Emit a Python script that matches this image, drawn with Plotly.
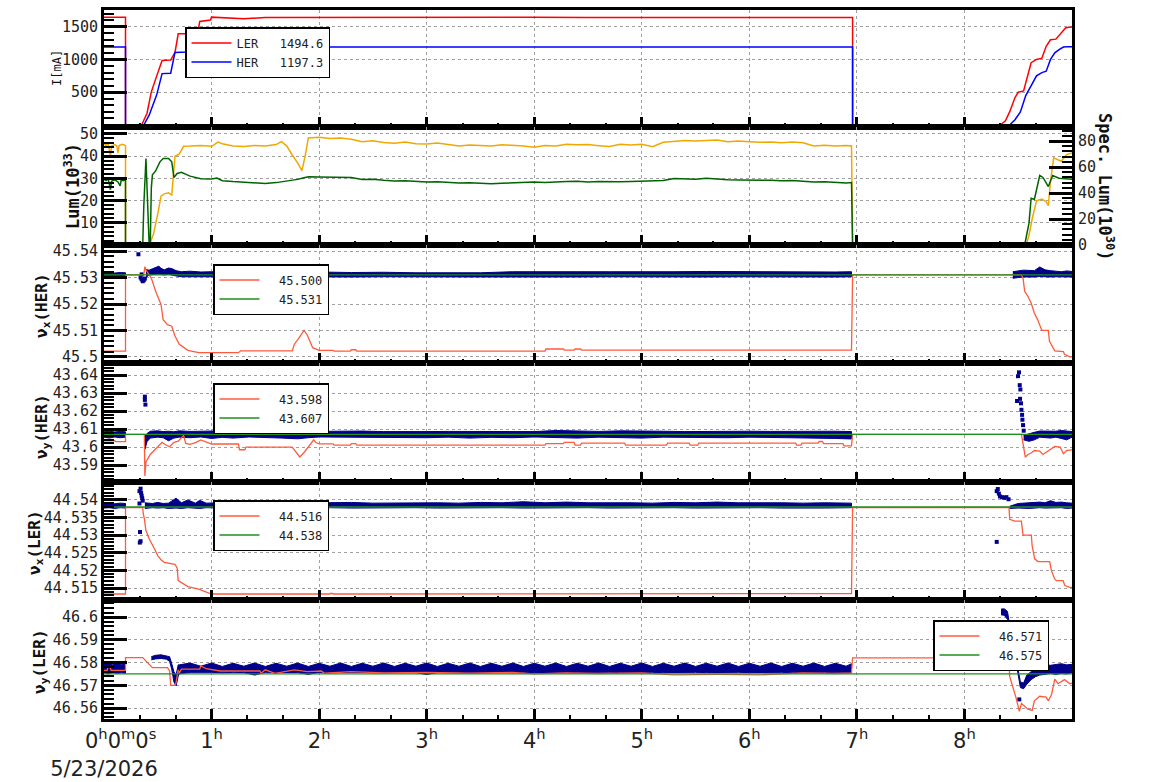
import plotly.graph_objects as go

# ---------------- data ----------------
HOUR_TICKS = [0, 1, 2, 3, 4, 5, 6, 7, 8]
HOUR_LABELS = ["\u00a0\u00a0\u00a0\u00a0\u00a00<sup>h</sup>0<sup>m</sup>0<sup>s</sup><br>5/23/2026",
               "1<sup>h</sup>", "2<sup>h</sup>", "3<sup>h</sup>", "4<sup>h</sup>", "5<sup>h</sup>",
               "6<sup>h</sup>", "7<sup>h</sup>", "8<sup>h</sup>"]

# beam currents [mA] (time in hours, value)
LER_CURRENT = [(0, 1642), (0.2, 1642), (0.2, 0), (0.35, 0), (0.40, 180), (0.44, 505), (0.48, 700), (0.51, 858),
               (0.54, 983), (0.62, 990), (0.66, 1107), (0.69, 1391), (0.77, 1391), (0.79, 1480), (0.88, 1480),
               (0.89, 1580), (0.99, 1600), (1.0, 1645), (1.3, 1620), (1.5, 1640), (2.0, 1642), (2.5, 1638),
               (3.0, 1641), (3.5, 1640), (4.0, 1642), (4.5, 1639), (5.0, 1641), (5.5, 1640), (6.0, 1642),
               (6.5, 1640), (6.96, 1640), (6.96, 0), (8.33, 0), (8.38, 60), (8.42, 200), (8.47, 420), (8.5, 500),
               (8.55, 520), (8.58, 700), (8.62, 950), (8.67, 1000), (8.72, 1020), (8.76, 1200), (8.8, 1300),
               (8.85, 1310), (8.9, 1400), (8.94, 1480), (8.97, 1490), (9.0, 1495)]
HER_CURRENT = [(0, 1190), (0.2, 1190), (0.2, 0), (0.37, 0), (0.42, 150), (0.46, 320), (0.49, 460), (0.54, 784),
               (0.62, 790), (0.66, 1107), (0.77, 1115), (0.79, 1185), (1.0, 1190), (1.5, 1190), (1.72, 1190),
               (1.79, 1050), (1.86, 858), (1.93, 1190), (2.5, 1190), (3.5, 1190), (4.5, 1190), (5.5, 1190),
               (6.5, 1190), (6.96, 1190), (6.96, 0), (8.42, 0), (8.47, 80), (8.52, 200), (8.57, 450), (8.62, 600),
               (8.67, 750), (8.72, 800), (8.76, 820), (8.8, 1000), (8.84, 1100), (8.88, 1150), (8.92, 1190),
               (8.95, 1192), (9.0, 1192)]
CURRENT_LEGEND = {"LER": "1494.6", "HER": "1197.3"}

# luminosity [1e33] (orange, left axis)
LUM = [(0, 45.5), (0.02, 44.8), (0.04, 45.6), (0.06, 39.5), (0.07, 44.5), (0.1, 45.2), (0.12, 44.6), (0.13, 41.5),
       (0.14, 44.8), (0.17, 45.3), (0.2, 44.8), (0.2, 1.0), (0.43, 1.0), (0.46, 5), (0.5, 14), (0.53, 22),
       (0.56, 23), (0.6, 23.5), (0.63, 22.5), (0.66, 39.9), (0.7, 41), (0.74, 44.4), (0.8, 44.5), (0.9, 44.8),
       (1.0, 44.4), (1.06, 46.3), (1.1, 45.6), (1.2, 44.6), (1.3, 44.3), (1.4, 44.8), (1.5, 44.5), (1.6, 45.2),
       (1.65, 46.5), (1.7, 44.5), (1.75, 40.5), (1.8, 37), (1.84, 33.5), (1.87, 40), (1.9, 48.2), (2.0, 48.5),
       (2.1, 47.9), (2.2, 48.2), (2.3, 47.6), (2.4, 46.5), (2.5, 46.9), (2.6, 46.1), (2.7, 45.8), (2.8, 46.3),
       (2.9, 45.6), (3.0, 45.4), (3.1, 45.9), (3.2, 45.1), (3.3, 44.6), (3.4, 45.0), (3.5, 44.8), (3.6, 44.5),
       (3.7, 45.1), (3.8, 45.0), (3.9, 44.6), (4.0, 44.0), (4.1, 44.8), (4.2, 44.6), (4.3, 45.3), (4.4, 45.1),
       (4.5, 45.2), (4.6, 44.7), (4.7, 44.3), (4.8, 45.3), (4.9, 45.0), (5.0, 45.3), (5.1, 44.2), (5.2, 46.2),
       (5.3, 46.6), (5.4, 47.0), (5.5, 46.8), (5.6, 47.2), (5.7, 47.3), (5.8, 46.5), (5.9, 46.8), (6.0, 46.5),
       (6.1, 46.2), (6.2, 46.4), (6.3, 46.0), (6.4, 46.3), (6.5, 46.0), (6.6, 44.6), (6.7, 44.9), (6.8, 44.5),
       (6.9, 44.8), (6.95, 44.6), (6.96, 1.0), (8.58, 1.0), (8.6, 4.4), (8.63, 11.8), (8.67, 19.9), (8.72, 20.7),
       (8.76, 19.5), (8.78, 17.7), (8.8, 28.8), (8.83, 39.2), (8.86, 38.4), (8.9, 37.7), (8.95, 40.7), (9.0, 41.4)]

# specific luminosity [1e30] (green, right axis)
SPEC_LUM = [(0, 50.5), (0.02, 49.5), (0.04, 50.8), (0.06, 42.5), (0.07, 49), (0.1, 50.2), (0.13, 48.5),
            (0.15, 45.5), (0.16, 50), (0.18, 49.5), (0.2, 50.3), (0.2, 0), (0.36, 0), (0.37, 30), (0.39, 66.5),
            (0.41, 20), (0.42, 0), (0.43, 0), (0.44, 44), (0.45, 54), (0.48, 57), (0.52, 64), (0.55, 66.5),
            (0.6, 66.5), (0.63, 64), (0.65, 52), (0.68, 55), (0.72, 56), (0.8, 53), (0.9, 51), (1.0, 50.8),
            (1.05, 51.5), (1.1, 49.5), (1.2, 48.8), (1.3, 48.2), (1.4, 47.8), (1.5, 47.3), (1.6, 48), (1.65, 48.5),
            (1.7, 49), (1.75, 49.9), (1.8, 50.5), (1.85, 51.6), (1.9, 52.5), (2.0, 52.3), (2.1, 52.1), (2.2, 52.4),
            (2.3, 52), (2.4, 50.4), (2.5, 50.6), (2.6, 49.8), (2.7, 49.2), (2.8, 49.5), (2.9, 48.8), (3.0, 48.4),
            (3.1, 48.6), (3.2, 48.0), (3.3, 47.7), (3.4, 47.9), (3.5, 47.3), (3.6, 47.1), (3.7, 47.5), (3.8, 47.9),
            (3.9, 48.2), (4.0, 48.4), (4.1, 48.1), (4.2, 48.6), (4.3, 48.9), (4.4, 49.0), (4.5, 48.4), (4.6, 48.8),
            (4.7, 48.5), (4.8, 48.7), (4.9, 48.9), (5.0, 49.0), (5.1, 49.4), (5.2, 49.6), (5.3, 51.1), (5.4, 50.8),
            (5.5, 50.5), (5.6, 51.4), (5.7, 50.6), (5.8, 50.2), (5.9, 50.0), (6.0, 49.9), (6.1, 50.3), (6.2, 49.8),
            (6.3, 49.5), (6.4, 49.6), (6.5, 49.0), (6.6, 48.4), (6.7, 48.6), (6.8, 47.9), (6.9, 47.7), (6.95, 48),
            (6.96, 0), (8.56, 0), (8.58, 9.2), (8.6, 16.8), (8.62, 36), (8.65, 35), (8.7, 53.5), (8.73, 52),
            (8.78, 45), (8.82, 53.5), (8.88, 51.4), (8.95, 50.8), (9.0, 50.5)]

# ---- tunes: measured band segments (t, low, high), isolated points, red trace, green reference ----
NUX_HER_BAND = [
    [(0.0, 45.5304, 45.5318), (0.05, 45.5303, 45.5320), (0.1, 45.5305, 45.5317), (0.15, 45.5303, 45.5319),
     (0.2, 45.5304, 45.5318)],
    [(0.39, 45.5300, 45.5330), (0.42, 45.5310, 45.5328), (0.45, 45.5311, 45.5333), (0.48, 45.5312, 45.5337),
     (0.51, 45.5313, 45.5343), (0.53, 45.5312, 45.5335), (0.56, 45.5310, 45.5329), (0.6, 45.5312, 45.5336),
     (0.63, 45.5311, 45.5334), (0.67, 45.5306, 45.5326), (0.72, 45.5303, 45.5322), (0.8, 45.5302, 45.5324),
     (0.9, 45.5303, 45.5321), (1.0, 45.5302, 45.5322), (1.2, 45.5302, 45.5320), (1.4, 45.5303, 45.5321),
     (1.6, 45.5302, 45.5322), (1.8, 45.5303, 45.5320), (2.0, 45.5302, 45.5321), (2.3, 45.5302, 45.5319),
     (2.6, 45.5303, 45.5320), (2.9, 45.5302, 45.5318), (3.2, 45.5303, 45.5319), (3.5, 45.5302, 45.5318),
     (3.8, 45.5302, 45.5322), (4.1, 45.5303, 45.5321), (4.4, 45.5302, 45.5322), (4.7, 45.5303, 45.5322),
     (5.0, 45.5302, 45.5321), (5.3, 45.5303, 45.5322), (5.6, 45.5302, 45.5323), (5.9, 45.5303, 45.5322),
     (6.2, 45.5302, 45.5321), (6.5, 45.5303, 45.5322), (6.8, 45.5302, 45.5321), (6.95, 45.5303, 45.5322)],
    [(8.45, 45.5297, 45.5322), (8.5, 45.5300, 45.5326), (8.55, 45.5302, 45.5328), (8.6, 45.5303, 45.5327),
     (8.65, 45.5302, 45.5326), (8.7, 45.5304, 45.5340), (8.75, 45.5303, 45.5329), (8.8, 45.5302, 45.5326),
     (8.85, 45.5303, 45.5325), (8.9, 45.5302, 45.5322), (8.95, 45.5303, 45.5325), (9.0, 45.5302, 45.5323)],
]
NUX_HER_PTS = [(0.32, 45.5388), (0.34, 45.5300), (0.35, 45.5293), (0.36, 45.5286), (0.37, 45.5290),
               (0.38, 45.5296), (0.35, 45.5312)]
NUX_HER_RED = [(0, 45.5022), (0.2, 45.5022), (0.2, 45.531), (0.37, 45.531), (0.38, 45.5341), (0.39, 45.5329),
               (0.44, 45.5298), (0.48, 45.5248), (0.53, 45.5198), (0.55, 45.5141), (0.59, 45.5122),
               (0.63, 45.5116), (0.66, 45.5079), (0.70, 45.5048), (0.78, 45.5025), (0.88, 45.5016),
               (1.25, 45.5016), (1.27, 45.5023), (1.75, 45.5023), (1.77, 45.5048), (1.81, 45.507), (1.86, 45.510),
               (1.89, 45.5083), (1.94, 45.5035), (2.0, 45.5025), (2.13, 45.5025), (2.14, 45.5022), (2.29, 45.5022),
               (2.30, 45.5027), (2.34, 45.5027), (2.35, 45.5022), (4.10, 45.5022), (4.11, 45.5030),
               (4.27, 45.5030), (4.28, 45.5026), (4.37, 45.5026), (4.38, 45.5030), (4.43, 45.5030),
               (4.44, 45.5026), (6.95, 45.5026), (6.96, 45.531), (8.53, 45.531), (8.545, 45.5298),
               (8.56, 45.5248), (8.59, 45.5229), (8.62, 45.5204), (8.65, 45.5166), (8.68, 45.5141), (8.72, 45.510),
               (8.78, 45.510), (8.79, 45.506), (8.84, 45.5023), (8.92, 45.502), (8.93, 45.501), (8.98, 45.500),
               (9.0, 45.500)]
NUX_HER_REF = 45.531
NUX_HER_LABELS = ("45.500", "45.531")

NUY_HER_BAND = [
    [(0.0, 43.6055, 43.6085), (0.05, 43.6050, 43.6088), (0.1, 43.6056, 43.6084), (0.15, 43.6052, 43.6087),
     (0.2, 43.6055, 43.6085)],
    [(0.38, 43.5985, 43.6060), (0.40, 43.6030, 43.6075), (0.43, 43.6050, 43.6088), (0.5, 43.6055, 43.6090),
     (0.55, 43.6052, 43.6086), (0.6, 43.6035, 43.6088), (0.65, 43.6050, 43.6085), (0.7, 43.6055, 43.6090),
     (0.8, 43.6052, 43.6087), (0.9, 43.6056, 43.6088), (1.0, 43.6048, 43.6086), (1.1, 43.6054, 43.6088),
     (1.2, 43.6050, 43.6091), (1.35, 43.6056, 43.6086), (1.5, 43.6054, 43.6088), (1.65, 43.6050, 43.6086),
     (1.8, 43.6046, 43.6088), (1.9, 43.6052, 43.6087), (2.0, 43.6056, 43.6088), (2.2, 43.6054, 43.6086),
     (2.4, 43.6052, 43.6089), (2.6, 43.6055, 43.6086), (2.8, 43.6053, 43.6088), (3.0, 43.6052, 43.6086),
     (3.2, 43.6055, 43.6087), (3.4, 43.6050, 43.6086), (3.6, 43.6054, 43.6088), (3.8, 43.6052, 43.6087),
     (4.0, 43.6056, 43.6086), (4.2, 43.6053, 43.6092), (4.4, 43.6050, 43.6088), (4.6, 43.6055, 43.6087),
     (4.8, 43.6053, 43.6090), (5.0, 43.6050, 43.6087), (5.2, 43.6055, 43.6088), (5.4, 43.6053, 43.6086),
     (5.6, 43.6054, 43.6088), (5.8, 43.6052, 43.6087), (6.0, 43.6055, 43.6088), (6.2, 43.6053, 43.6087),
     (6.4, 43.6052, 43.6088), (6.6, 43.6050, 43.6090), (6.8, 43.6048, 43.6088), (6.95, 43.6045, 43.6086)],
    [(8.55, 43.6040, 43.6065), (8.6, 43.6032, 43.6075), (8.65, 43.6040, 43.6082), (8.7, 43.6055, 43.6089),
     (8.75, 43.6052, 43.6088), (8.8, 43.6050, 43.6090), (8.85, 43.6055, 43.6088), (8.9, 43.6048, 43.6092),
     (8.95, 43.6040, 43.6088), (9.0, 43.6055, 43.6086)],
]
NUY_HER_PTS = [(0.38, 43.6280), (0.38, 43.6262), (0.385, 43.6236), (8.507, 43.6415), (8.498, 43.6394),
               (8.514, 43.6344), (8.52, 43.632), (8.489, 43.6256), (8.517, 43.6268), (8.526, 43.6243),
               (8.53, 43.6207), (8.536, 43.6179), (8.539, 43.6152), (8.545, 43.6122), (8.551, 43.6091)]
NUY_HER_RED = [(0, 43.6035), (0.1, 43.6035), (0.11, 43.6030), (0.2, 43.6030), (0.2, 43.607), (0.375, 43.607),
               (0.38, 43.5840), (0.39, 43.5918), (0.43, 43.5959), (0.47, 43.5983), (0.51, 43.6011),
               (0.54, 43.6026), (0.58, 43.6010), (0.61, 43.6002), (0.65, 43.6026), (0.69, 43.6033),
               (0.74, 43.6065), (0.76, 43.6020), (0.8, 43.6015), (0.85, 43.6025), (0.9, 43.6040), (0.95, 43.6030),
               (1.0, 43.6017), (1.25, 43.6017), (1.26, 43.5985), (1.31, 43.5985), (1.32, 43.6000), (1.75, 43.6000),
               (1.78, 43.5975), (1.82, 43.5945), (1.86, 43.5970), (1.92, 43.6015), (1.95, 43.6040),
               (1.97, 43.6025), (2.0, 43.6018), (2.13, 43.6018), (2.14, 43.6011), (2.29, 43.6011), (2.3, 43.6019),
               (2.34, 43.6019), (2.35, 43.6011), (4.10, 43.6011), (4.11, 43.6019), (4.27, 43.6019),
               (4.28, 43.6026), (4.37, 43.6026), (4.38, 43.6011), (4.43, 43.6011), (4.44, 43.6022),
               (4.84, 43.6022), (4.85, 43.6011), (5.23, 43.6011), (5.24, 43.6022), (5.44, 43.6022),
               (5.45, 43.6011), (5.52, 43.6011), (5.53, 43.6022), (6.43, 43.6022), (6.44, 43.6011),
               (6.48, 43.6011), (6.49, 43.6022), (6.64, 43.6022), (6.65, 43.6031), (6.68, 43.6031),
               (6.69, 43.6019), (6.87, 43.6019), (6.88, 43.6007), (6.95, 43.6007), (6.96, 43.607), (8.53, 43.607),
               (8.545, 43.6009), (8.566, 43.5944), (8.59, 43.5959), (8.62, 43.5967), (8.65, 43.5981),
               (8.70, 43.5978), (8.73, 43.5959), (8.78, 43.5978), (8.84, 43.6004), (8.89, 43.6000),
               (8.92, 43.5963), (8.95, 43.5981), (9.0, 43.5985)]
NUY_HER_REF = 43.607
NUY_HER_LABELS = ("43.598", "43.607")

NUX_LER_BAND = [
    [(0.0, 44.5377, 44.5390), (0.05, 44.5378, 44.5392), (0.1, 44.5376, 44.5389), (0.15, 44.5378, 44.5391),
     (0.2, 44.5377, 44.5390)],
    [(0.38, 44.5376, 44.5392), (0.45, 44.5378, 44.5390), (0.5, 44.5377, 44.5393), (0.55, 44.5378, 44.5390),
     (0.6, 44.5376, 44.5391), (0.67, 44.5377, 44.5405), (0.72, 44.5376, 44.5392), (0.78, 44.5378, 44.5400),
     (0.85, 44.5377, 44.5391), (0.89, 44.5376, 44.5399), (0.95, 44.5378, 44.5391), (1.1, 44.5377, 44.5392),
     (1.3, 44.5376, 44.5391), (1.5, 44.5378, 44.5393), (1.7, 44.5377, 44.5391), (1.9, 44.5376, 44.5392),
     (2.1, 44.5378, 44.5391), (2.3, 44.5377, 44.5393), (2.5, 44.5376, 44.5391), (2.7, 44.5377, 44.5392),
     (2.9, 44.5378, 44.5391), (3.1, 44.5377, 44.5392), (3.3, 44.5376, 44.5391), (3.5, 44.5377, 44.5393),
     (3.7, 44.5378, 44.5392), (3.9, 44.5377, 44.5395), (4.1, 44.5376, 44.5392), (4.3, 44.5377, 44.5394),
     (4.5, 44.5378, 44.5392), (4.7, 44.5377, 44.5393), (4.9, 44.5376, 44.5392), (5.1, 44.5377, 44.5391),
     (5.3, 44.5378, 44.5393), (5.5, 44.5377, 44.5392), (5.7, 44.5376, 44.5394), (5.9, 44.5377, 44.5392),
     (6.1, 44.5378, 44.5393), (6.3, 44.5377, 44.5392), (6.5, 44.5376, 44.5391), (6.7, 44.5377, 44.5392),
     (6.95, 44.5378, 44.5391)],
    [(8.42, 44.5376, 44.5382), (8.5, 44.5377, 44.5390), (8.6, 44.5376, 44.5392), (8.7, 44.5378, 44.5394),
     (8.75, 44.5377, 44.5392), (8.8, 44.5376, 44.5398), (8.85, 44.5377, 44.5393), (8.9, 44.5378, 44.5394),
     (8.95, 44.5376, 44.5392), (9.0, 44.5377, 44.5391)],
]
NUX_LER_PTS = [(0.33, 44.5425), (0.34, 44.5432), (0.345, 44.5420), (0.35, 44.5412), (0.355, 44.5405),
               (0.36, 44.5398), (0.33, 44.5390), (0.335, 44.5309), (0.34, 44.5283), (0.333, 44.5279),
               (8.30, 44.5425), (8.31, 44.5431), (8.32, 44.5418), (8.33, 44.5410), (8.35, 44.5408),
               (8.37, 44.5406), (8.39, 44.5408), (8.41, 44.5402), (8.30, 44.5281)]
NUX_LER_RED = [(0, 44.5133), (0.2, 44.5133), (0.2, 44.5378), (0.36, 44.5378), (0.365, 44.5361), (0.375, 44.5347),
               (0.39, 44.5313), (0.42, 44.5290), (0.47, 44.5261), (0.50, 44.5242), (0.53, 44.5230),
               (0.56, 44.5223), (0.66, 44.5217), (0.68, 44.5207), (0.69, 44.5171), (0.78, 44.5154),
               (0.88, 44.5147), (0.94, 44.5140), (1.0, 44.5133), (2.1, 44.5133), (2.11, 44.5135), (2.14, 44.5133),
               (4.0, 44.5133), (4.05, 44.5135), (4.6, 44.5133), (5.0, 44.5134), (6.95, 44.5134), (6.96, 44.5378),
               (8.414, 44.5379), (8.421, 44.5345), (8.467, 44.5340), (8.529, 44.5340), (8.545, 44.5300),
               (8.622, 44.5300), (8.629, 44.5271), (8.653, 44.5233), (8.684, 44.5225), (8.793, 44.5225),
               (8.808, 44.5200), (8.839, 44.5176), (8.855, 44.5171), (8.917, 44.5171), (8.933, 44.5157),
               (8.979, 44.5152), (9.0, 44.5152)]
NUX_LER_REF = 44.538
NUX_LER_LABELS = ("44.516", "44.538")

NUY_LER_BAND = [
    [(0.0, 46.5755, 46.5795), (0.04, 46.5750, 46.5800), (0.08, 46.5756, 46.5790), (0.12, 46.5752, 46.5800),
     (0.16, 46.5755, 46.5792), (0.2, 46.5753, 46.5798)],
    [(0.44, 46.5812, 46.5826), (0.48, 46.5816, 46.5832), (0.53, 46.5818, 46.5834), (0.58, 46.5815, 46.5830),
     (0.61, 46.5805, 46.5826), (0.63, 46.5770, 46.5795), (0.65, 46.5715, 46.5760), (0.67, 46.5697, 46.5745),
     (0.69, 46.5740, 46.5790), (0.70, 46.5750, 46.5790), (0.80, 46.5757, 46.5798), (0.90, 46.5756, 46.5784),
     (1.00, 46.5757, 46.5798), (1.10, 46.5755, 46.5783), (1.20, 46.5757, 46.5797), (1.30, 46.5756, 46.5784),
     (1.40, 46.5745, 46.5798), (1.50, 46.5757, 46.5783), (1.60, 46.5756, 46.5797), (1.70, 46.5757, 46.5784),
     (1.80, 46.5756, 46.5798), (1.90, 46.5748, 46.5783), (2.00, 46.5757, 46.5797), (2.10, 46.5756, 46.5784),
     (2.20, 46.5757, 46.5798), (2.30, 46.5756, 46.5783), (2.40, 46.5757, 46.5797), (2.50, 46.5755, 46.5784),
     (2.60, 46.5757, 46.5798), (2.70, 46.5756, 46.5783), (2.80, 46.5757, 46.5797), (2.90, 46.5756, 46.5784),
     (3.00, 46.5747, 46.5798), (3.10, 46.5757, 46.5783), (3.20, 46.5756, 46.5797), (3.30, 46.5757, 46.5784),
     (3.40, 46.5756, 46.5798), (3.50, 46.5757, 46.5783), (3.60, 46.5756, 46.5797), (3.70, 46.5757, 46.5784),
     (3.80, 46.5755, 46.5798), (3.90, 46.5757, 46.5783), (4.00, 46.5756, 46.5797), (4.10, 46.5757, 46.5784),
     (4.20, 46.5756, 46.5798), (4.30, 46.5757, 46.5783), (4.40, 46.5756, 46.5797), (4.50, 46.5757, 46.5784),
     (4.60, 46.5756, 46.5798), (4.70, 46.5757, 46.5783), (4.80, 46.5756, 46.5797), (4.90, 46.5757, 46.5784),
     (5.00, 46.5756, 46.5798), (5.10, 46.5757, 46.5783), (5.20, 46.5756, 46.5797), (5.30, 46.5757, 46.5784),
     (5.40, 46.5756, 46.5798), (5.50, 46.5757, 46.5783), (5.60, 46.5756, 46.5797), (5.70, 46.5757, 46.5784),
     (5.80, 46.5756, 46.5798), (5.90, 46.5757, 46.5783), (6.00, 46.5756, 46.5797), (6.10, 46.5757, 46.5784),
     (6.20, 46.5756, 46.5798), (6.30, 46.5757, 46.5783), (6.40, 46.5756, 46.5797), (6.50, 46.5757, 46.5784),
     (6.60, 46.5756, 46.5798), (6.70, 46.5757, 46.5783), (6.80, 46.5756, 46.5797), (6.90, 46.5757, 46.5784),
     (6.95, 46.5756, 46.5795)],
    [(8.34, 46.6010, 46.6035), (8.37, 46.6008, 46.6036), (8.40, 46.5990, 46.6025), (8.42, 46.5930, 46.5960),
     (8.44, 46.5870, 46.5895), (8.46, 46.5830, 46.5850), (8.48, 46.5800, 46.5820), (8.50, 46.5740, 46.5775),
     (8.52, 46.5690, 46.5715), (8.55, 46.5685, 46.5710), (8.58, 46.5705, 46.5745), (8.62, 46.5725, 46.5760),
     (8.66, 46.5738, 46.5775), (8.7, 46.5745, 46.5785), (8.75, 46.5750, 46.5790), (8.8, 46.5752, 46.5788),
     (8.85, 46.5748, 46.5792), (8.9, 46.5752, 46.5795), (8.95, 46.5750, 46.5790), (9.0, 46.5755, 46.5792)],
]
NUY_LER_PTS = [(8.33, 46.5772), (8.51, 46.5638)]
NUY_LER_RED = [(0, 46.5766), (0.03, 46.5766), (0.035, 46.5778), (0.06, 46.5778), (0.065, 46.5766),
               (0.2, 46.5766), (0.2, 46.5822), (0.36, 46.5822), (0.45, 46.5778), (0.59, 46.5778),
               (0.61, 46.5763), (0.62, 46.5700), (0.66, 46.5700), (0.67, 46.5712), (0.69, 46.5768),
               (0.70, 46.5755), (0.72, 46.5771), (0.89, 46.5771), (0.9, 46.5785), (0.95, 46.5773),
               (1.08, 46.5763), (1.45, 46.5763), (1.46, 46.5753), (1.5, 46.5768), (1.59, 46.5753),
               (1.77, 46.5768), (1.89, 46.5760), (2.02, 46.5763), (2.05, 46.5753), (2.3, 46.5760),
               (2.6, 46.5755), (3.0, 46.5757), (3.4, 46.5753), (3.8, 46.5757), (4.0, 46.5750), (4.3, 46.5755),
               (4.6, 46.5752), (5.0, 46.5755), (5.3, 46.5746), (5.7, 46.5748), (6.1, 46.5746), (6.5, 46.5755),
               (6.8, 46.5752), (6.95, 46.5755), (6.96, 46.5821), (8.415, 46.5821), (8.42, 46.5740),
               (8.45, 46.5696), (8.48, 46.5645), (8.51, 46.5586), (8.53, 46.5620), (8.59, 46.5595),
               (8.63, 46.5590), (8.65, 46.5632), (8.70, 46.5652), (8.76, 46.5648), (8.78, 46.5632),
               (8.81, 46.5660), (8.84, 46.5727), (8.87, 46.5707), (8.93, 46.5725), (8.98, 46.5707), (9.0, 46.571)]
NUY_LER_REF = 46.575
NUY_LER_LABELS = ("46.571", "46.575")

# ---------------- styling ----------------
MONO = "DejaVu Sans Mono"
NAVY = "#00008b"
TUNE_RED = "#ff5a3c"
REF_GREEN = "#1f8f1f"
GRID = "#a0a0a0"
NB = "\u00a0"

BOUNDS = [10, 127, 245, 363, 482, 600, 719]
PLOT_TOP, PLOT_BOT = 10, 719
H = PLOT_BOT - PLOT_TOP


def dom(i):
    return [(PLOT_BOT - BOUNDS[i + 1]) / H, (PLOT_BOT - BOUNDS[i]) / H]


def unz(pairs):
    return [p[0] for p in pairs], [p[1] for p in pairs]


fig = go.Figure()

# panel 1: currents
x, y = unz(LER_CURRENT)
fig.add_trace(go.Scatter(x=x, y=y, mode="lines", line=dict(color="#ff0000", width=1.5),
                         name="LER" + NB * 3 + CURRENT_LEGEND["LER"], xaxis="x", yaxis="y", legend="legend"))
x, y = unz(HER_CURRENT)
fig.add_trace(go.Scatter(x=x, y=y, mode="lines", line=dict(color="#0000ff", width=1.5),
                         name="HER" + NB * 3 + CURRENT_LEGEND["HER"], xaxis="x", yaxis="y", legend="legend"))

# panel 2: luminosity
x, y = unz(LUM)
fig.add_trace(go.Scatter(x=x, y=y, mode="lines", line=dict(color="#f0a800", width=1.5),
                         showlegend=False, xaxis="x2", yaxis="y2"))
x, y = unz(SPEC_LUM)
fig.add_trace(go.Scatter(x=x, y=y, mode="lines", line=dict(color="#006400", width=1.5),
                         showlegend=False, xaxis="x2", yaxis="y7"))

TUNES = [
    (NUX_HER_BAND, NUX_HER_PTS, NUX_HER_RED, NUX_HER_REF, NUX_HER_LABELS, 3, "legend2"),
    (NUY_HER_BAND, NUY_HER_PTS, NUY_HER_RED, NUY_HER_REF, NUY_HER_LABELS, 4, "legend3"),
    (NUX_LER_BAND, NUX_LER_PTS, NUX_LER_RED, NUX_LER_REF, NUX_LER_LABELS, 5, "legend4"),
    (NUY_LER_BAND, NUY_LER_PTS, NUY_LER_RED, NUY_LER_REF, NUY_LER_LABELS, 6, "legend5"),
]
for band, pts, red, ref, labels, k, lg in TUNES:
    xa, ya = "x%d" % k, "y%d" % k
    for seg in band:
        bx = [p[0] for p in seg] + [p[0] for p in reversed(seg)]
        by = [p[2] for p in seg] + [p[1] for p in reversed(seg)]
        fig.add_trace(go.Scatter(x=bx, y=by, mode="lines", fill="toself", fillcolor=NAVY,
                                 line=dict(color=NAVY, width=1), showlegend=False, xaxis=xa, yaxis=ya))
    px_, py_ = unz(pts)
    fig.add_trace(go.Scatter(x=px_, y=py_, mode="markers", marker=dict(symbol="square", size=4, color=NAVY),
                             showlegend=False, xaxis=xa, yaxis=ya))
    rx, ry = unz(red)
    fig.add_trace(go.Scatter(x=rx, y=ry, mode="lines", line=dict(color=TUNE_RED, width=1.3),
                             name=NB * 2 + labels[0], xaxis=xa, yaxis=ya, legend=lg))
    fig.add_trace(go.Scatter(x=[0, 9], y=[ref, ref], mode="lines", line=dict(color=REF_GREEN, width=1.3),
                             name=NB * 2 + labels[1], xaxis=xa, yaxis=ya, legend=lg))

# ---------------- axes ----------------
tickfont = dict(family=MONO, size=15, color="#222")
layout = dict(
    width=1154, height=782,
    margin=dict(l=104, r=82, t=10, b=63, autoexpand=False),
    paper_bgcolor="white", plot_bgcolor="white",
    font=dict(family=MONO, color="#222"),
)

for i in range(6):
    k = i + 1
    xname = "xaxis" if k == 1 else "xaxis%d" % k
    layout[xname] = dict(
        domain=[0, 1], range=[0, 9], anchor="y" if k == 1 else "y%d" % k, automargin=False,
        tickmode="array", tickvals=HOUR_TICKS, ticktext=HOUR_LABELS,
        showticklabels=(k == 6), tickfont=dict(family="DejaVu Sans", size=21, color="#222"),
        ticklabelstandoff=1,
        ticks="inside", ticklen=10, tickwidth=3, tickcolor="black",
        minor=dict(ticks="inside", ticklen=4, tickwidth=2, tickcolor="black", tick0=0, dtick=1 / 3,
                   showgrid=False),
        showline=True, linewidth=3, linecolor="black", mirror=True,
        showgrid=True, gridcolor=GRID, griddash="dot", gridwidth=1, zeroline=False,
    )
    if k > 1:
        layout[xname]["matches"] = "x"

Y_SPECS = [
    dict(range=[-30, 1754], tickvals=[500, 1000, 1500], ticktext=["500", "1000", "1500"], minor=100),
    dict(range=[0, 53.1], tickvals=[10, 20, 30, 40, 50], ticktext=["10", "20", "30", "40", "50"], minor=2),
    dict(range=[45.4977, 45.5423], tickvals=[45.50, 45.51, 45.52, 45.53, 45.54],
         ticktext=["45.5", "45.51", "45.52", "45.53", "45.54"], minor=0.002),
    dict(range=[43.5806, 43.6467], tickvals=[43.59, 43.60, 43.61, 43.62, 43.63, 43.64],
         ticktext=["43.59", "43.6", "43.61", "43.62", "43.63", "43.64"], minor=0.002),
    dict(range=[44.5116, 44.5451], tickvals=[44.515, 44.52, 44.525, 44.53, 44.535, 44.54],
         ticktext=["44.515", "44.52", "44.525", "44.53", "44.535", "44.54"], minor=0.001),
    dict(range=[46.5552, 46.6075], tickvals=[46.56, 46.57, 46.58, 46.59, 46.60],
         ticktext=["46.56", "46.57", "46.58", "46.59", "46.6"], minor=0.002),
]
for i, s in enumerate(Y_SPECS):
    k = i + 1
    yname = "yaxis" if k == 1 else "yaxis%d" % k
    layout[yname] = dict(
        domain=dom(i), range=s["range"], anchor="x" if k == 1 else "x%d" % k, automargin=False,
        tickmode="array", tickvals=s["tickvals"], ticktext=s["ticktext"], tickfont=tickfont,
        ticks="inside", ticklen=23, tickwidth=3, tickcolor="black",
        minor=dict(ticks="inside", ticklen=10, tickwidth=2, tickcolor="black", dtick=s["minor"],
                   tick0=s["tickvals"][0], showgrid=False),
        showline=True, linewidth=3, linecolor="black", mirror=True,
        showgrid=True, gridcolor=GRID, griddash="dot", gridwidth=1, zeroline=False,
    )

layout["yaxis7"] = dict(
    overlaying="y2", side="right", anchor="x2", range=[0, 90.8], automargin=False,
    tickmode="array", tickvals=[0, 20, 40, 60, 80], ticktext=["0", "20", "40", "60", "80"], tickfont=tickfont,
    ticks="inside", ticklen=23, tickwidth=3, tickcolor="black",
    minor=dict(ticks="inside", ticklen=10, tickwidth=2, tickcolor="black", dtick=4, tick0=0, showgrid=False),
    showline=True, linewidth=3, linecolor="black", showgrid=False, zeroline=False,
)

PW = 1154 - 104 - 82


def px2paper(xp, yp):
    return (xp - 104) / PW, (PLOT_BOT - yp) / H


def legend_at(xp, yp):
    lx, ly = px2paper(xp, yp)
    return dict(x=lx, y=ly, xanchor="left", yanchor="top", bgcolor="white", bordercolor="black",
                borderwidth=1.5, font=dict(family=MONO, size=12, color="#222"), itemwidth=40,
                tracegroupgap=0)


layout["legend"] = legend_at(185, 27)
layout["legend2"] = legend_at(213, 264)
layout["legend3"] = legend_at(213, 383)
layout["legend4"] = legend_at(213, 500)
layout["legend5"] = legend_at(933, 620)

# axis titles
titles = [
    ("I[mA]", 57, 68, -90, dict(family=MONO, size=12, color="#111")),
    ("<b>Lum(10<sup>33</sup>)</b>", 72, 186, -90, dict(family=MONO, size=17, color="#111")),
    ("<b>\u03bd<sub>x</sub>(HER)</b>", 42, 306, -90, dict(family=MONO, size=16, color="#111")),
    ("<b>\u03bd<sub>y</sub>(HER)</b>", 42, 427, -90, dict(family=MONO, size=16, color="#111")),
    ("<b>\u03bd<sub>x</sub>(LER)</b>", 35, 543, -90, dict(family=MONO, size=16, color="#111")),
    ("<b>\u03bd<sub>y</sub>(LER)</b>", 40, 662, -90, dict(family=MONO, size=16, color="#111")),
    ("<b>Spec. Lum(10<sup>30</sup>)</b>", 1106, 186, 90, dict(family=MONO, size=17, color="#111")),
]
annotations = []
for text, xp, yp, ang, f in titles:
    ax_, ay_ = px2paper(xp, yp)
    annotations.append(dict(text=text, x=ax_, y=ay_, xref="paper", yref="paper", showarrow=False,
                            textangle=ang, font=f, xanchor="center", yanchor="middle"))
layout["annotations"] = annotations

fig.update_layout(**layout)
fig.write_html("out.html")
